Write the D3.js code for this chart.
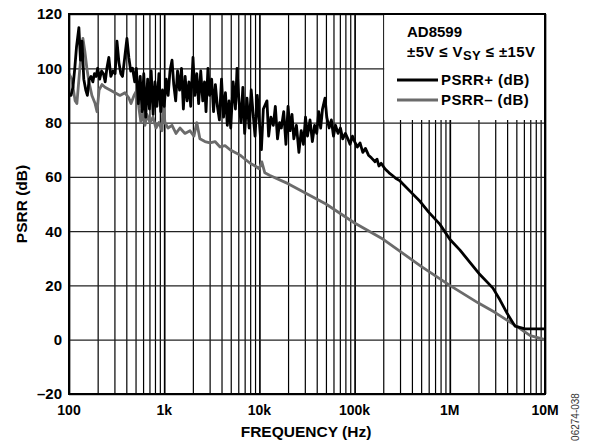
<!DOCTYPE html>
<html>
<head>
<meta charset="utf-8">
<script src="https://cdn.jsdelivr.net/npm/d3@7"></script>
<style>
body { margin: 0; background: #fff; }
svg { font-family: "Liberation Sans", Arial, sans-serif; }
</style>
</head>
<body>
<svg id="svg1" width="592" height="444"></svg>
<script>
// tick values
var xTickLabels = ["100", "1k", "10k", "100k", "1M", "10M"];
var xTickValues = [1e2, 1e3, 1e4, 1e5, 1e6, 1e7];
var yTickValues = [-20, 0, 20, 40, 60, 80, 100, 120];

// PSRR+ (dB), black
var plusFreq = [100, 105, 110, 115, 120, 127, 132, 137, 143, 150, 156, 163, 170, 178, 185, 193, 200, 210, 220, 230,
	240, 250, 262, 275, 290, 305, 319, 335, 350, 365, 385, 406, 425, 445, 465, 490, 510, 535, 560, 585,
	610, 640, 670, 700, 730, 765, 800, 840, 880, 920, 960, 1000, 1050, 1100, 1150, 1208, 1260, 1320, 1380, 1450,
	1520, 1590, 1660, 1740, 1820, 1900, 2007, 2100, 2200, 2300, 2420, 2540, 2650, 2750, 2880, 3000, 3150, 3300, 3450, 3620,
	3800, 4000, 4200, 4400, 4600, 4800, 5000, 5300, 5600, 5820, 6100, 6400, 6700, 7000, 7400, 7800, 8200, 8600, 9000, 9500,
	10000, 10500, 11000, 12000, 12500, 13200, 14000, 14700, 15500, 16300, 17000, 18000, 19000, 20000, 21000, 22000, 23000, 24500, 26000, 27500,
	29000, 30500, 32000, 34000, 36000, 38000, 40000, 42000, 44000, 46000, 48900, 51000, 54000, 57000, 60000, 63000, 67000, 71000, 75000, 80000,
	85000, 89500, 95000, 100000, 107000, 114000, 122000, 130000, 140000, 150000, 164000, 172000, 180000, 190000, 208000, 230000, 250000, 270000, 300000, 400000, 486000,
	600000, 789000, 1000000, 1280000, 2070000, 2840000, 3370000, 3990000, 4840000, 6170000, 10000000];
var plusDb = [90, 90, 93, 100, 108, 115, 103, 110, 96, 92, 90, 96, 97, 95, 98, 97, 100, 96, 99, 98,
	95, 100, 104, 97, 99, 98, 110, 102, 98, 97, 104, 111, 104, 99, 100, 95, 100, 87, 97, 84,
	98, 82, 96, 85, 99, 83, 95, 86, 98, 84, 92, 86, 96, 90, 99, 103, 94, 88, 99, 92,
	100, 85, 97, 88, 95, 86, 104, 90, 98, 87, 99, 88, 95, 84, 100, 90, 96, 84, 94, 86,
	81, 96, 82, 91, 79, 88, 78, 95, 85, 100, 88, 80, 93, 76, 89, 78, 92, 83, 75, 90,
	80, 70, 85, 88, 75, 82, 79, 86, 74, 80, 78, 84, 72, 86, 77, 83, 74, 79, 69, 77,
	72, 82, 75, 81, 73, 79, 76, 84, 78, 85, 89, 82, 78, 81, 75, 79, 76, 78, 74, 76,
	74, 72, 75, 73, 71, 72.5, 69, 70.5, 68, 67, 65.6, 66.5, 64, 65, 63, 61.5, 60.5, 59.5, 58.5, 54, 51,
	47, 42.5, 37, 33, 24, 19, 14.6, 9.8, 5, 4, 4];

// PSRR- (dB), grey
var minusFreq = [100, 107, 116, 121, 130, 140, 147, 154, 162, 174, 188, 197, 207, 222, 239, 270, 304, 343, 387, 426,
	448, 482, 518, 544, 570, 598, 628, 659, 709, 762, 820, 880, 948, 971, 1019, 1096, 1208, 1330, 1464, 1653,
	1866, 2052, 2200, 2370, 2680, 3030, 3420, 3860, 4360, 4920, 5560, 6270, 7080, 7990, 9020, 9960, 10600, 11400, 12900, 20000,
	50000, 100000, 200000, 500000, 1000000, 2000000, 3000000, 5000000, 7000000, 10000000];
var minusDb = [98, 96, 88, 87, 100, 111, 106, 100, 95, 90, 87, 84, 92, 94, 93, 92, 91, 90, 91, 89,
	87, 90, 92, 85, 80, 84, 79, 83, 80, 82, 78, 80, 77, 87, 80, 78, 79, 76, 78, 76,
	77, 75, 80, 74, 73, 72.5, 73, 71, 71.5, 70, 69, 68, 66.5, 65, 64, 63, 65.5, 61.5, 60.5, 57.5,
	50, 43, 37, 27, 20, 13.5, 10, 5, 1.5, 0];

var margin = {left: 69, top: 14, right: 47, bottom: 50},
	width = 592 - margin.left - margin.right,
	height = 444 - margin.top - margin.bottom;

var svg = d3.select("#svg1");
var g = svg.append("g").attr("transform", "translate(" + margin.left + "," + margin.top + ")");

var x = d3.scaleLog().domain([1e2, 1e7]).range([0, width]);
var y = d3.scaleLinear().domain([-20, 120]).range([height, 0]);

// vertical grid, all 1..9 per decade
var minorTicks = [];
for (var d = 2; d < 7; d++) {
	for (var m = 1; m < 10; m++) {
		minorTicks.push(m * Math.pow(10, d));
	}
}
minorTicks.push(1e7);

g.append("g")
	.attr("class", "xgrid")
	.attr("transform", "translate(0," + height + ")")
	.call(d3.axisBottom(x).tickValues(minorTicks).tickSize(-height).tickFormat(""))
	.call(function(s) {
		s.select(".domain").remove();
		s.selectAll("line")
			.attr("stroke", "#000")
			.attr("stroke-width", function(v) { return xTickValues.indexOf(v) >= 0 ? 1.7 : 1.2; });
	});

g.append("g")
	.attr("class", "ygrid")
	.call(d3.axisLeft(y).tickValues(yTickValues).tickSize(-width).tickFormat(""))
	.call(function(s) {
		s.select(".domain").remove();
		s.selectAll("line").attr("stroke", "#222").attr("stroke-width", 1.3);
	});

// legend background hides the grid
g.append("rect")
	.attr("x", x(2e5) + 1)
	.attr("y", 0)
	.attr("width", width - x(2e5) - 1)
	.attr("height", 106)
	.attr("fill", "#fff");

var line = d3.line()
	.x(function(d) { return x(d[0]); })
	.y(function(d) { return y(d[1]); });

g.append("path")
	.datum(d3.zip(minusFreq, minusDb))
	.attr("d", line)
	.attr("fill", "none")
	.attr("stroke", "#6b6b6b")
	.attr("stroke-width", 2.8)
	.attr("stroke-linejoin", "round");

g.append("path")
	.datum(d3.zip(plusFreq, plusDb))
	.attr("d", line)
	.attr("fill", "none")
	.attr("stroke", "#000")
	.attr("stroke-width", 2.8)
	.attr("stroke-linejoin", "round");

// frame
g.append("rect")
	.attr("width", width)
	.attr("height", height)
	.attr("fill", "none")
	.attr("stroke", "#000")
	.attr("stroke-width", 2);

// tick labels
g.selectAll(".ylab")
	.data(yTickValues)
	.enter().append("text")
	.attr("x", -7)
	.attr("y", function(d) { return y(d); })
	.attr("dy", "0.36em")
	.attr("text-anchor", "end")
	.style("font-size", "15px")
	.attr("font-weight", "bold")
	.text(function(d) { return d < 0 ? "\u2013" + (-d) : d; });

g.selectAll(".xlab")
	.data(xTickValues)
	.enter().append("text")
	.attr("x", function(d) { return x(d); })
	.attr("y", height + 21)
	.attr("text-anchor", "middle")
	.style("font-size", "14px")
	.attr("font-weight", "bold")
	.text(function(d, i) { return xTickLabels[i]; });

// axis titles
svg.append("text")
	.attr("x", 306)
	.attr("y", 437)
	.attr("text-anchor", "middle")
	.style("font-size", "15.5px")
	.attr("font-weight", "bold")
	.text("FREQUENCY (Hz)");

svg.append("text")
	.attr("transform", "translate(27,204) rotate(-90)")
	.attr("text-anchor", "middle")
	.style("font-size", "15.5px")
	.attr("font-weight", "bold")
	.text("PSRR (dB)");

svg.append("text")
	.attr("transform", "translate(579,417) rotate(-90)")
	.attr("text-anchor", "middle")
	.style("font-size", "10px")
	.attr("fill", "#333")
	.text("06274-038");

// legend
var leg = svg.append("g")
	.style("font-size", "15px")
	.style("letter-spacing", "0.4px")
	.attr("font-weight", "bold");
leg.append("text")
	.attr("x", 407).attr("y", 37)
	.style("letter-spacing", "0px")
	.text("AD8599");
var t2 = leg.append("text")
	.attr("x", 407).attr("y", 57);
t2.append("tspan").text("\u00b15V \u2264 V");
t2.append("tspan").attr("dy", 3).style("font-size", "13px").text("SY");
t2.append("tspan").attr("dy", -3).text(" \u2264 \u00b115V");

var legItems = [["PSRR+ (dB)", "#000"], ["PSRR\u2013 (dB)", "#6b6b6b"]];
legItems.forEach(function(it, i) {
	var yy = 80 + i * 20;
	leg.append("line")
		.attr("x1", 397).attr("x2", 438)
		.attr("y1", yy).attr("y2", yy)
		.attr("stroke", it[1]).attr("stroke-width", 3);
	leg.append("text")
		.attr("x", 441).attr("y", yy + 5)
		.text(it[0]);
});
</script>
</body>
</html>
